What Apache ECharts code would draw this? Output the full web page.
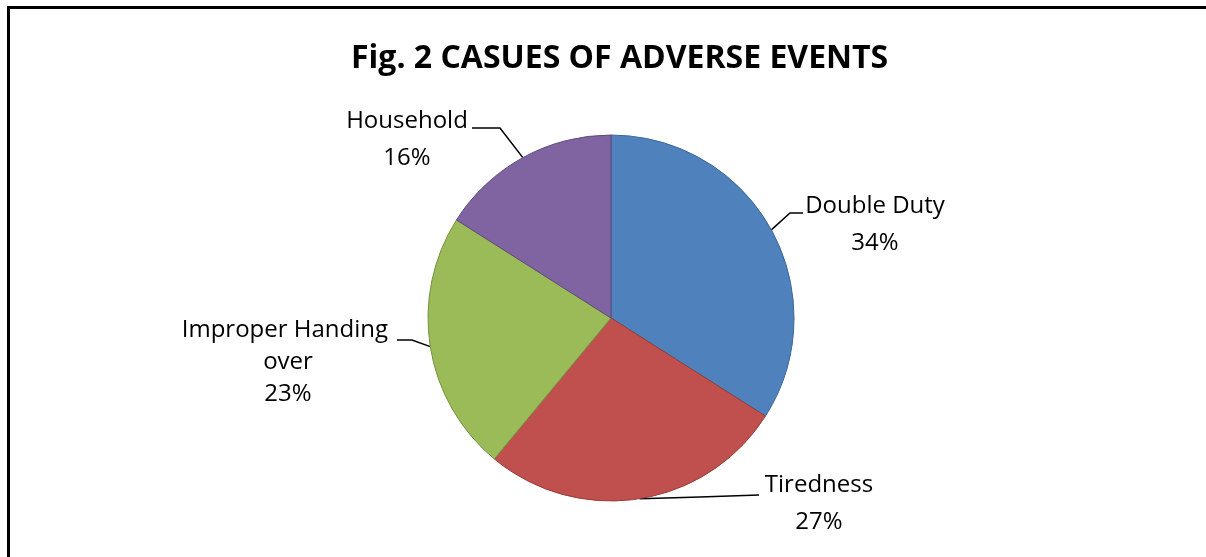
<!DOCTYPE html>
<html>
<head>
<meta charset="utf-8">
<script src="https://cdn.jsdelivr.net/npm/echarts@6/dist/echarts.min.js"></script>
<style>
  html, body { margin: 0; padding: 0; background: #fff; overflow: hidden; }
  #frame { position: absolute; left: 7px; top: 6px; width: 1300px; height: 700px; border-top: 3px solid #000; border-left: 3px solid #000; }
  #main { position: absolute; left: 0; top: 0; width: 1206px; height: 557px; }
</style>
</head>
<body>
<div id="frame"></div>
<div id="main"></div>
<script>
var causes = ['Double Duty', 'Tiredness', 'Improper Handing over', 'Household'];
var shares = [34, 27, 23, 16];
var fills = ['#4F81BD', '#C0504D', '#9BBB59', '#8064A2'];
var edges = ['#3B6696', '#943C3A', '#758F40', '#5F4A7C'];

// label block centres and the bend / end of each leader line
var labelSpots = [[875, 225], [819, 504], [288, 362], [407, 140]];
var lineBends = [[790, 213], [700, 497], [412, 340], [500, 128]];
var lineEnds = [[803, 213], [759, 495], [397, 340], [472, 128]];

var chart = echarts.init(document.getElementById('main'));

var pieData = [];
for (var i = 0; i < causes.length; i++) {
  var item = {
    name: causes[i],
    value: shares[i],
    itemStyle: { color: fills[i], borderColor: edges[i], borderWidth: 1 }
  };
  if (i == 2) {
    item.label = { lineHeight: 32 };
  }
  pieData.push(item);
}

var option = {
  animation: false,
  title: {
    text: 'Fig. 2 CASUES OF ADVERSE EVENTS',
    left: 346,
    top: 38,
    textStyle: { fontFamily: 'Open Sans', fontWeight: 'bold', fontSize: 32, color: '#000' }
  },
  series: [
    {
      type: 'pie',
      center: [611, 318],
      radius: 183,
      startAngle: 90,
      clockwise: true,
      data: pieData,
      label: {
        show: true,
        formatter: '{b}\n{d}%',
        fontFamily: 'Open Sans',
        fontSize: 24,
        color: '#000',
        lineHeight: 37,
        align: 'center',
        width: 225,
        overflow: 'break'
      },
      labelLine: {
        show: true,
        lineStyle: { color: '#000', width: 1.5 }
      },
      labelLayout: function (params) {
        var k = params.dataIndex;
        var s = labelSpots[k];
        var start = params.labelLinePoints ? params.labelLinePoints[0] : lineBends[k];
        return {
          x: s[0],
          y: s[1],
          align: 'center',
          verticalAlign: 'middle',
          labelLinePoints: [start, lineBends[k], lineEnds[k]]
        };
      },
      emphasis: { disabled: true }
    }
  ]
};

chart.setOption(option);
</script>
</body>
</html>
